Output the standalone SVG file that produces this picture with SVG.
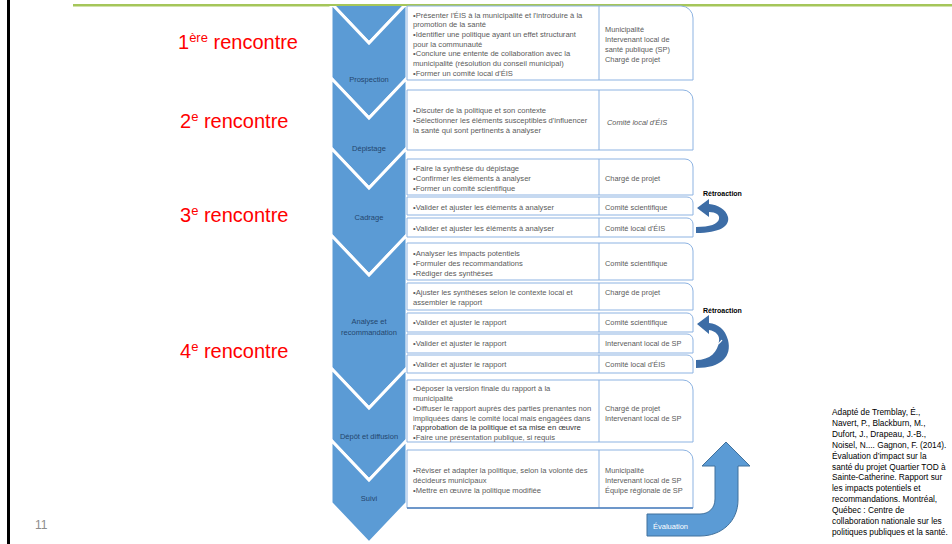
<svg xmlns="http://www.w3.org/2000/svg" width="952" height="544" viewBox="0 0 952 544">
<defs>
<style>
.t{font-family:"Liberation Sans",Arial,sans-serif;font-size:7.6px;fill:#5a5a5a}
.r{font-family:"Liberation Sans",Arial,sans-serif;font-size:7.4px;fill:#5a5a5a}
.lab{font-family:"Liberation Sans",Arial,sans-serif;font-size:7.5px;fill:#24466e;text-anchor:middle}
.red{font-family:"Liberation Sans",Arial,sans-serif;font-size:20px;fill:#ff0000}
.box{fill:#fff;stroke:#8db3e2;stroke-width:1}
.dv{stroke:#8db3e2;stroke-width:1;fill:none}
.chev{fill:#5b9bd5;stroke:#fff;stroke-width:3;stroke-linejoin:miter}
.fb{fill:#3d6da6}
.fbl{font-family:"Liberation Sans",Arial,sans-serif;font-size:7px;font-weight:bold;fill:#000}
.cite{font-family:"Liberation Sans",Arial,sans-serif;font-size:8.3px;fill:#000}
</style>
<clipPath id="clip"><rect x="0" y="6" width="952" height="538"/></clipPath>
</defs>
<rect width="952" height="544" fill="#fff"/>
<rect x="7" y="0" width="3" height="544" fill="#000"/>
<rect x="73" y="4" width="879" height="2.5" fill="#a5c65a"/>
<text x="35" y="529" font-family="Liberation Sans,Arial,sans-serif" font-size="12" fill="#8c8c8c">11</text>

<g id="meetings">
<text class="red" x="178" y="49">1<tspan font-size="13" dy="-7">ère</tspan><tspan dy="7"> rencontre</tspan></text>
<text class="red" x="180" y="128">2<tspan font-size="13" dy="-7">e</tspan><tspan dy="7"> rencontre</tspan></text>
<text class="red" x="180" y="222">3<tspan font-size="13" dy="-7">e</tspan><tspan dy="7"> rencontre</tspan></text>
<text class="red" x="180" y="358">4<tspan font-size="13" dy="-7">e</tspan><tspan dy="7"> rencontre</tspan></text>
</g>

<g id="chevrons" clip-path="url(#clip)">
<polygon class="chev" points="331,-80 407,-80 407,3 369,43 331,3"/>
<g id="prospection"><polygon class="chev" points="331,3 369,43 407,3 407,78 369,118 331,78"/><text class="lab" x="369" y="81.5">Prospection</text></g>
<g id="depistage"><polygon class="chev" points="331,78 369,118 407,78 407,148 369,188 331,148"/><text class="lab" x="369" y="150.5">Dépistage</text></g>
<g id="cadrage"><polygon class="chev" points="331,148 369,188 407,148 407,235 369,275 331,235"/><text class="lab" x="369" y="219.5">Cadrage</text></g>
<g id="analyse"><polygon class="chev" points="331,235 369,275 407,235 407,368 369,408 331,368"/><text class="lab" x="369" y="323.5">Analyse et</text><text class="lab" x="369" y="334.5">recommandation</text></g>
<g id="depot"><polygon class="chev" points="331,368 369,408 407,368 407,440 369,480 331,440"/><text class="lab" x="369" y="438.5">Dépôt et diffusion</text></g>
<g id="suivi"><polygon class="chev" points="331,440 369,480 407,440 407,503 369,543 331,503"/><text class="lab" x="369" y="500.5">Suivi</text></g>
</g>

<g id="box1">
<path class="box" d="M407 6 H681 A12 12 0 0 1 693 18 V80 H407 Z"/><path class="dv" d="M599 6 V80"/>
<text class="t" x="413" y="17.5">•Présenter l'ÉIS à la municipalité et l'introduire à la</text>
<text class="t" x="413" y="27.2">promotion de la santé</text>
<text class="t" x="413" y="36.9">•Identifier une politique ayant un effet structurant</text>
<text class="t" x="413" y="46.6">pour la communauté</text>
<text class="t" x="413" y="56.3">•Conclure une entente de collaboration avec la</text>
<text class="t" x="413" y="66">municipalité (résolution du conseil municipal)</text>
<text class="t" x="413" y="75.7">•Former un comité local d'ÉIS</text>
<text class="r" x="605" y="31.5">Municipalité</text>
<text class="r" x="605" y="41.8">Intervenant local de</text>
<text class="r" x="605" y="52.1">santé publique (SP)</text>
<text class="r" x="605" y="62.4">Chargé de projet</text>
</g>

<g id="box2">
<path class="box" d="M407 90 H683 A10 10 0 0 1 693 100 V150 H407 Z"/><path class="dv" d="M599 90 V150"/>
<text class="t" x="413" y="112.5">•Discuter de la politique et son contexte</text>
<text class="t" x="413" y="122.5">•Sélectionner les éléments susceptibles d'influencer</text>
<text class="t" x="413" y="132.5">la santé qui sont pertinents à analyser</text>
<text class="r" x="607" y="124.5" font-style="italic">Comité local d'ÉIS</text>
</g>

<g id="box3a">
<path class="box" d="M407 159 H685 A8 8 0 0 1 693 167 V195 H407 Z"/><path class="dv" d="M599 159 V195"/>
<text class="t" x="413" y="170.5">•Faire la synthèse du dépistage</text>
<text class="t" x="413" y="180.5">•Confirmer les éléments à analyser</text>
<text class="t" x="413" y="190.5">•Former un comité scientifique</text>
<text class="r" x="605" y="180.5">Chargé de projet</text>
</g>
<g id="box3b">
<path class="box" d="M407 197 H687 A6 6 0 0 1 693 203 V215 H407 Z"/><path class="dv" d="M599 197 V215"/>
<text class="t" x="413" y="209.5">•Valider et ajuster les éléments à analyser</text>
<text class="r" x="605" y="209.5">Comité scientifique</text>
</g>
<g id="box3c">
<path class="box" d="M407 218 H687 A6 6 0 0 1 693 224 V237 H407 Z"/><path class="dv" d="M599 218 V237"/>
<text class="t" x="413" y="230.5">•Valider et ajuster les éléments à analyser</text>
<text class="r" x="605" y="230.5">Comité local d'ÉIS</text>
</g>

<g id="box4a">
<path class="box" d="M407 243 H685 A8 8 0 0 1 693 251 V280 H407 Z"/><path class="dv" d="M599 243 V280"/>
<text class="t" x="413" y="255.5">•Analyser les impacts potentiels</text>
<text class="t" x="413" y="265.5">•Formuler des recommandations</text>
<text class="t" x="413" y="275.5">•Rédiger des synthèses</text>
<text class="r" x="605" y="265.5">Comité scientifique</text>
</g>
<g id="box4b">
<path class="box" d="M407 283 H685 A8 8 0 0 1 693 291 V310 H407 Z"/><path class="dv" d="M599 283 V310"/>
<text class="t" x="413" y="294.5">•Ajuster les synthèses selon le contexte local et</text>
<text class="t" x="413" y="304.5">assembler le rapport</text>
<text class="r" x="605" y="294.5">Chargé de projet</text>
</g>
<g id="box4c">
<path class="box" d="M407 313 H687 A6 6 0 0 1 693 319 V332 H407 Z"/><path class="dv" d="M599 313 V332"/>
<text class="t" x="413" y="324.5">•Valider et ajuster le rapport</text>
<text class="r" x="605" y="324.5">Comité scientifique</text>
</g>
<g id="box4d">
<path class="box" d="M407 334 H687 A6 6 0 0 1 693 340 V353 H407 Z"/><path class="dv" d="M599 334 V353"/>
<text class="t" x="413" y="345.5">•Valider et ajuster le rapport</text>
<text class="r" x="605" y="345.5">Intervenant local de SP</text>
</g>
<g id="box4e">
<path class="box" d="M407 355 H687 A6 6 0 0 1 693 361 V373 H407 Z"/><path class="dv" d="M599 355 V373"/>
<text class="t" x="413" y="366.5">•Valider et ajuster le rapport</text>
<text class="r" x="605" y="366.5">Comité local d'ÉIS</text>
</g>

<g id="box5">
<path class="box" d="M407 380 H683 A10 10 0 0 1 693 390 V442 H407 Z"/><path class="dv" d="M599 380 V442"/>
<text class="t" x="413" y="390.5">•Déposer la version finale du rapport à la</text>
<text class="t" x="413" y="400.5">municipalité</text>
<text class="t" x="413" y="410.5">•Diffuser le rapport auprès des parties prenantes non</text>
<text class="t" x="413" y="420.5">impliquées dans le comité local mais engagées dans</text>
<text class="t" x="413" y="430" style="font-size:7.8px;fill:#333">l'approbation de la politique et sa mise en œuvre</text>
<text class="t" x="413" y="439.5">•Faire une présentation publique, si requis</text>
<text class="r" x="605" y="410.5">Chargé de projet</text>
<text class="r" x="605" y="420.5">Intervenant local de SP</text>
</g>

<g id="box6">
<path class="box" d="M407 450 H683 A10 10 0 0 1 693 460 V508 H407 Z"/><path class="dv" d="M599 450 V508"/>
<path d="M407 508 H693" stroke="#4f81bd" stroke-width="1.5"/>
<text class="t" x="413" y="472.5">•Réviser et adapter la politique, selon la volonté des</text>
<text class="t" x="413" y="482.5">décideurs municipaux</text>
<text class="t" x="413" y="492.5">•Mettre en œuvre la politique modifiée</text>
<text class="r" x="605" y="472.5">Municipalité</text>
<text class="r" x="605" y="482.5">Intervenant local de SP</text>
<text class="r" x="605" y="492.5">Équipe régionale de SP</text>
</g>

<g id="connectors">
<g id="retro1">
<path class="fb" d="M696 233 C720 233 730 226 728 217 C726 209 718 205 709 204 L709 199 L697 208 L709 217 L709 212 C716 212 720 215 719 219 C718 224 710 227 696 227 Z"/>
<text class="fbl" x="703" y="195.5">Rétroaction</text>
</g>
<g id="retro2">
<path class="fb" d="M696 368 C722 368 732 356 728 340 C725 329 718 324 709 323 L709 315 L697 324 L709 334 L709 330 C716 331 720 336 719 341 C718 352 710 360 696 360 Z"/>
<path d="M700 349 C712 348 719 345 722 340" stroke="#fff" stroke-width="1.2" fill="none"/>
<text class="fbl" x="703" y="312.5">Rétroaction</text>
</g>
<g id="evaluation">
<path d="M647 514 L700 514 C709 514 715 508 715 499 L715 466 L702 466 L726 442 L750 466 L738 466 L738 500 C738 521 722 536 700 536 L647 536 Z" fill="#5b9bd5" stroke="#41719c" stroke-width="1"/>
<text x="653" y="528.5" font-family="Liberation Sans,Arial,sans-serif" font-size="7.5" fill="#fff">Évaluation</text>
</g>
</g>

<g id="citation" class="cite">
<text x="832" y="415">Adapté de Tremblay, É.,</text>
<text x="832" y="425.9">Navert, P., Blackburn, M.,</text>
<text x="832" y="436.8">Dufort, J., Drapeau, J.-B.,</text>
<text x="832" y="447.7">Noisel, N.... Gagnon, F. (2014).</text>
<text x="832" y="458.6">Évaluation d’impact sur la</text>
<text x="832" y="469.5">santé du projet Quartier TOD à</text>
<text x="832" y="480.4">Sainte-Catherine. Rapport sur</text>
<text x="832" y="491.3">les impacts potentiels et</text>
<text x="832" y="502.2">recommandations. Montréal,</text>
<text x="832" y="513.1">Québec : Centre de</text>
<text x="832" y="524">collaboration nationale sur les</text>
<text x="832" y="534.9">politiques publiques et la santé.</text>
</g>
</svg>
